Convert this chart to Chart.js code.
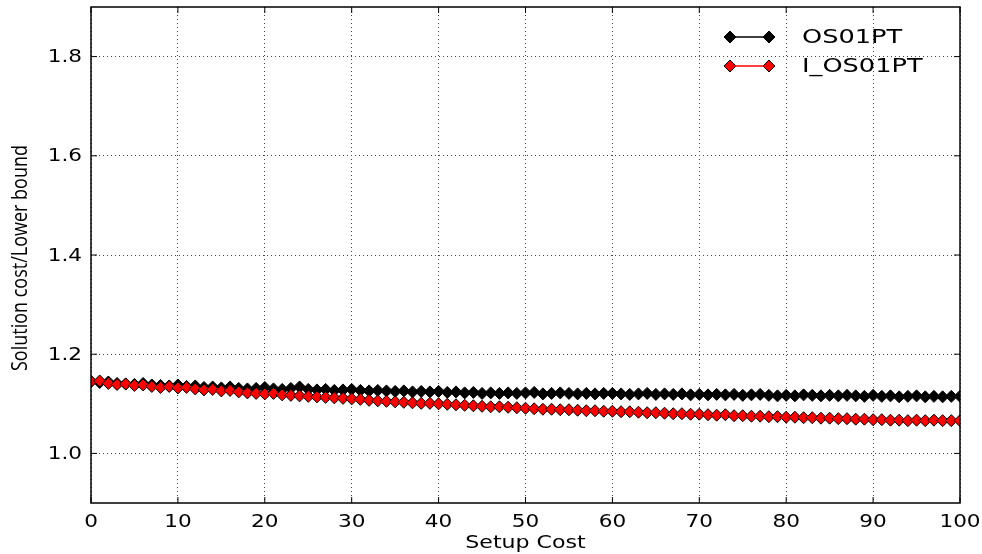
<!DOCTYPE html>
<html><head><meta charset="utf-8">
<script src="https://cdn.jsdelivr.net/npm/chart.js@4/dist/chart.umd.min.js"></script>
<style>html,body{margin:0;padding:0;background:#fff}#wrap{width:982px;height:554px}</style>
</head><body><div id="wrap"><canvas id="c" width="982" height="554"></canvas></div>
<script>
const setupCost = [0,1,2,3,4,5,6,7,8,9,10,11,12,13,14,15,16,17,18,19,20,21,22,23,24,25,26,27,28,29,30,31,32,33,34,35,36,37,38,39,40,41,42,43,44,45,46,47,48,49,50,51,52,53,54,55,56,57,58,59,60,61,62,63,64,65,66,67,68,69,70,71,72,73,74,75,76,77,78,79,80,81,82,83,84,85,86,87,88,89,90,91,92,93,94,95,96,97,98,99,100];
const os01pt = [1.145,1.143,1.144,1.141,1.140,1.139,1.141,1.138,1.137,1.136,
1.138,1.135,1.136,1.133,1.134,1.132,1.134,1.131,1.130,1.131,
1.133,1.130,1.129,1.131,1.134,1.129,1.128,1.129,1.127,1.128,
1.129,1.127,1.126,1.127,1.126,1.125,1.126,1.124,1.125,1.124,
1.125,1.123,1.124,1.122,1.123,1.121,1.122,1.121,1.122,1.121,
1.122,1.123,1.120,1.121,1.122,1.121,1.120,1.121,1.120,1.121,
1.121,1.120,1.119,1.120,1.121,1.119,1.120,1.119,1.120,1.118,
1.119,1.118,1.119,1.118,1.119,1.117,1.118,1.119,1.117,1.116,
1.117,1.116,1.118,1.117,1.116,1.117,1.116,1.117,1.116,1.115,
1.117,1.115,1.116,1.114,1.115,1.116,1.114,1.115,1.114,1.115,1.115];
const i_os01pt = [1.145,1.146,1.141,1.139,1.140,1.137,1.138,1.135,1.133,1.135,
1.132,1.133,1.130,1.128,1.129,1.126,1.127,1.124,1.122,1.121,
1.120,1.121,1.118,1.117,1.116,1.115,1.114,1.113,1.112,1.111,
1.110,1.109,1.107,1.106,1.105,1.104,1.103,1.102,1.101,1.101,
1.100,1.099,1.098,1.097,1.096,1.095,1.094,1.094,1.093,1.092,
1.091,1.090,1.089,1.089,1.088,1.088,1.087,1.086,1.086,1.085,
1.085,1.084,1.084,1.083,1.082,1.082,1.081,1.080,1.080,1.079,
1.079,1.078,1.077,1.078,1.076,1.076,1.075,1.075,1.074,1.074,
1.073,1.073,1.072,1.072,1.071,1.071,1.070,1.070,1.069,1.069,
1.068,1.068,1.067,1.067,1.066,1.067,1.066,1.067,1.066,1.066,1.066];
const xTicks = [0,10,20,30,40,50,60,70,80,90,100];
const yTicks = [1.0,1.2,1.4,1.6,1.8];
const yTickLabels = ['1.0','1.2','1.4','1.6','1.8'];
const seriesNames = ['OS01PT','I_OS01PT'];
const xTitle = 'Setup Cost';
const yTitle = 'Solution cost/Lower bound';

function stretchText(ctx, text, x, y, font, sx, align, baseline){
  ctx.save();
  ctx.translate(x,y); ctx.scale(sx,1);
  ctx.font=font; ctx.textAlign=align; ctx.textBaseline=baseline; ctx.fillStyle='#000';
  ctx.fillText(text,0,0);
  ctx.restore();
}

const framePlugin = {
  id:'frame',
  afterDatasetsDraw(chart){
    const {ctx, chartArea:a, scales:{x,y}} = chart;
    ctx.save();
    ctx.strokeStyle='#000'; ctx.lineWidth=1.5;
    ctx.strokeRect(a.left,a.top,a.right-a.left,a.bottom-a.top);
    ctx.lineWidth=1;
    xTicks.forEach(v=>{const px=x.getPixelForValue(v);
      ctx.beginPath();ctx.moveTo(px,a.bottom);ctx.lineTo(px,a.bottom-6);ctx.moveTo(px,a.top);ctx.lineTo(px,a.top+6);ctx.stroke();});
    yTicks.forEach(v=>{const py=y.getPixelForValue(v);
      ctx.beginPath();ctx.moveTo(a.left,py);ctx.lineTo(a.left+6,py);ctx.moveTo(a.right,py);ctx.lineTo(a.right-6,py);ctx.stroke();});
    // tick labels
    xTicks.forEach(v=>stretchText(ctx,String(v),x.getPixelForValue(v),a.bottom+19,'18px "DejaVu Sans"',1.2,'center','middle'));
    yTicks.forEach((v,i)=>stretchText(ctx,yTickLabels[i],a.left-9,y.getPixelForValue(v)+1,'18px "DejaVu Sans"',1.2,'right','middle'));
    // axis titles
    stretchText(ctx,xTitle,(a.left+a.right)/2,a.bottom+41,'17px "DejaVu Sans"',1.3,'center','middle');
    ctx.save();
    ctx.translate(21,(a.top+a.bottom)/2+3); ctx.rotate(-Math.PI/2); ctx.scale(1,1.25);
    ctx.font='18px "Open Sans"'; ctx.textAlign='center'; ctx.textBaseline='middle'; ctx.fillStyle='#000';
    ctx.fillText(yTitle,0,0);
    ctx.restore();
    // legend
    const rows=[37,66];
    seriesNames.forEach((name,i)=>{
      const ds=chart.data.datasets[i];
      const yy=rows[i], x0=730, x1=769;
      ctx.strokeStyle=ds.borderColor; ctx.lineWidth=1.5;
      ctx.beginPath();ctx.moveTo(x0,yy);ctx.lineTo(x1,yy);ctx.stroke();
      [x0,x1].forEach(px=>{
        ctx.beginPath();ctx.moveTo(px,yy-6);ctx.lineTo(px+6,yy);ctx.lineTo(px,yy+6);ctx.lineTo(px-6,yy);ctx.closePath();
        ctx.fillStyle=ds.pointBackgroundColor;ctx.fill();ctx.strokeStyle='#000';ctx.lineWidth=1;ctx.stroke();
      });
      stretchText(ctx,name,802,yy+1,'19px "DejaVu Sans"',1.35,'left','middle');
    });
    ctx.restore();
  }
};

new Chart(document.getElementById('c'),{
  type:'line',
  data:{datasets:[
    {label:seriesNames[0],data:setupCost.map((v,i)=>({x:v,y:os01pt[i]})),borderColor:'#000',backgroundColor:'#000',
     pointBackgroundColor:'#000',pointBorderColor:'#000',pointStyle:'rectRot',pointRadius:6,pointBorderWidth:1,borderWidth:1.5,order:2},
    {label:seriesNames[1],data:setupCost.map((v,i)=>({x:v,y:i_os01pt[i]})),borderColor:'#ff0000',backgroundColor:'#ff0000',
     pointBackgroundColor:'#ff0000',pointBorderColor:'#000',pointStyle:'rectRot',pointRadius:6,pointBorderWidth:1,borderWidth:1.5,order:1}
  ]},
  options:{
    responsive:false,animation:false,
    layout:{padding:{left:0,top:7,right:22,bottom:0}},
    plugins:{legend:{display:false},tooltip:{enabled:false}},
    scales:{
      x:{type:'linear',min:0,max:100,
        afterBuildTicks(s){s.ticks=xTicks.map(v=>({value:v}));},
        afterFit(s){s.height=51;s.paddingLeft=0;s.paddingRight=0;},
        ticks:{display:false},
        grid:{color:'#444',lineWidth:1,drawTicks:false},
        border:{display:false,dash:[1,3]}
      },
      y:{type:'linear',min:0.9,max:1.9,
        afterBuildTicks(s){s.ticks=yTicks.map(v=>({value:v}));},
        afterFit(s){s.width=91;s.paddingTop=0;s.paddingBottom=0;},
        ticks:{display:false},
        grid:{color:'#444',lineWidth:1,drawTicks:false},
        border:{display:false,dash:[1,3]}
      }
    }
  },
  plugins:[framePlugin]
});
</script></body></html>
